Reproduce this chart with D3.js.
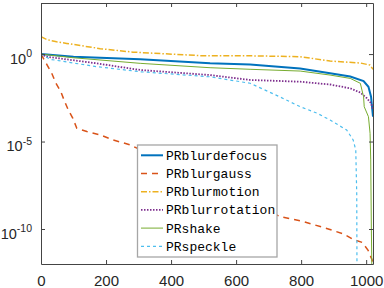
<!DOCTYPE html>
<html>
<head>
<meta charset="utf-8">
<script src="https://cdn.jsdelivr.net/npm/d3@7"></script>
<style>
  body { margin: 0; background: #fff; }
  svg { display: block; }
</style>
</head>
<body>
<svg width="384" height="288"></svg>
<script>
// values (index, value)
const xTicks = [0, 200, 400, 600, 800, 1000];
const yTicks = [1, 1e-5, 1e-10];
const yTickExp = ["0", "-5", "-10"];

const seriesNames = ["PRblurdefocus", "PRblurgauss", "PRblurmotion", "PRblurrotation", "PRshake", "PRspeckle"];

const defocusIdx = [0, 100, 305, 520, 643, 797, 889, 951, 992, 1007, 1015, 1021];
const defocusVal = [1, 0.708, 0.501, 0.295, 0.257, 0.151, 0.0794, 0.0525, 0.0288, 0.0135, 0.00363, 2.63e-4];

const gaussIdx = [0, 19, 33, 46, 61, 71, 84, 98, 110, 141, 182, 222, 274, 735, 806, 868, 929, 960, 988, 1006, 1018, 1021];
const gaussVal = [1, 0.234, 0.0794, 0.0214, 0.00708, 0.00234, 6.31e-4, 2.14e-4, 5.75e-5, 3.72e-5, 2.40e-5, 1.23e-5, 6.46e-6,
                  5.13e-10, 2.69e-10, 1.23e-10, 5.37e-11, 2.57e-11, 1.70e-11, 6.03e-12, 1.74e-12, 7.9e-13];

const motionIdx = [0, 18, 48, 79, 182, 283, 489, 643, 797, 889, 982, 1012, 1021];
const motionVal = [9.77, 6.76, 5.01, 4.07, 2.04, 1.29, 0.813, 0.794, 0.708, 0.398, 0.309, 0.234, 0.135];

const rotationIdx = [0, 17, 171, 305, 520, 643, 797, 889, 951, 982, 1002, 1015, 1021];
const rotationVal = [1, 0.708, 0.295, 0.123, 0.0631, 0.0331, 0.0263, 0.0182, 0.0110, 0.00631, 0.00302, 0.00155, 6.31e-4];

const shakeIdx = [0, 99, 305, 520, 643, 797, 889, 951, 982, 992, 994, 1007, 1012, 1014, 1016, 1018];
const shakeVal = [1, 0.617, 0.295, 0.166, 0.135, 0.107, 0.0631, 0.0407, 0.0214, 0.00363, 9.77e-4, 2.63e-4, 2.95e-5,
                  8.9e-7, 1e-10, 1e-13];

const speckleIdx = [0, 28, 171, 305, 520, 643, 735, 797, 849, 889, 940, 960, 968, 971, 972];
const speckleVal = [1, 0.501, 0.191, 0.0977, 0.0501, 0.0214, 0.00355, 9.77e-4, 4.17e-4, 1.70e-4, 4.57e-5, 1.23e-5,
                    3.31e-6, 1e-8, 1e-14];

const series = [
  {idx: defocusIdx, val: defocusVal, color: "#0072BD", w: 2, dash: null},
  {idx: gaussIdx, val: gaussVal, color: "#D95319", w: 1.5, dash: "6,5"},
  {idx: motionIdx, val: motionVal, color: "#EDB120", w: 1.5, dash: "6,2,1.5,2"},
  {idx: rotationIdx, val: rotationVal, color: "#7E2F8E", w: 1.8, dash: "1.5,1.5"},
  {idx: shakeIdx, val: shakeVal, color: "#77AC30", w: 1, dash: null},
  {idx: speckleIdx, val: speckleVal, color: "#4DBEEE", w: 1.2, dash: "3,3"}
];

const svg = d3.select("svg");
const plotL = 41, plotR = 373, plotT = 3, plotB = 264;

const x = d3.scaleLinear().domain([0, 1021]).range([plotL, plotR]);
const y = d3.scaleLog().domain([1e-12, 830]).range([plotB, plotT]);

svg.append("clipPath").attr("id", "plot-area")
  .append("rect")
    .attr("x", plotL).attr("y", plotT)
    .attr("width", plotR - plotL).attr("height", plotB - plotT);

const line = d3.line()
  .x(d => x(d[0]))
  .y(d => y(d[1]));

svg.append("g").attr("clip-path", "url(#plot-area)")
  .selectAll("path")
  .data(series)
  .enter()
  .append("path")
    .attr("fill", "none")
    .attr("stroke", d => d.color)
    .attr("stroke-width", d => d.w)
    .attr("stroke-dasharray", d => d.dash)
    .attr("d", d => line(d3.zip(d.idx, d.val)));

// axes (box on, ticks inward)
const axisColor = "#444";

const xAxis = svg.append("g")
  .attr("transform", `translate(0,${plotB})`)
  .call(d3.axisBottom(x).tickValues(xTicks).tickFormat(d3.format("d"))
    .tickSizeInner(-4).tickSizeOuter(0).tickPadding(11));
const xTop = svg.append("g")
  .attr("transform", `translate(0,${plotT})`)
  .call(d3.axisTop(x).tickValues(xTicks).tickSizeInner(-4).tickSizeOuter(0).tickFormat(""));
const yAxis = svg.append("g")
  .attr("transform", `translate(${plotL},0)`)
  .call(d3.axisLeft(y).tickValues(yTicks).tickSizeInner(-4).tickSizeOuter(0).tickFormat(""));
const yRight = svg.append("g")
  .attr("transform", `translate(${plotR},0)`)
  .call(d3.axisRight(y).tickValues(yTicks).tickSizeInner(-4).tickSizeOuter(0).tickFormat(""));

[xAxis, xTop, yAxis, yRight].forEach(g => {
  g.selectAll("path, line").attr("stroke", axisColor).attr("stroke-width", 1);
});

xAxis.selectAll("text")
  .attr("fill", "#262626")
  .style("font-family", "'Liberation Sans', Arial, sans-serif")
  .style("font-size", "15px");

const yLab = svg.append("g")
  .style("font-family", "'Liberation Sans', Arial, sans-serif")
  .attr("fill", "#262626");

yTicks.forEach((t, k) => {
  const txt = yLab.append("text")
    .attr("x", 32)
    .attr("y", y(t) + 9.5)
    .attr("text-anchor", "end")
    .style("font-size", "14.5px");
  txt.append("tspan").text("10");
  txt.append("tspan")
    .attr("dy", -6.5)
    .style("font-size", "10.5px")
    .text(yTickExp[k]);
});

// legend
const legend = svg.append("g");
legend.append("rect")
  .attr("x", 137.5).attr("y", 145)
  .attr("width", 139.5).attr("height", 112)
  .attr("fill", "#fff")
  .attr("stroke", "#a6a6a6")
  .attr("stroke-width", 1.3);

const rows = legend.selectAll("g.row")
  .data(series)
  .enter()
  .append("g")
    .attr("class", "row")
    .attr("transform", (d, k) => `translate(0,${155.3 + k * 18.2})`);

rows.append("line")
  .attr("x1", 141).attr("x2", 163)
  .attr("stroke", d => d.color)
  .attr("stroke-width", d => d.w)
  .attr("stroke-dasharray", d => d.dash);

rows.append("text")
  .attr("x", 166)
  .attr("dy", "0.35em")
  .style("font-family", "'Liberation Mono', 'DejaVu Sans Mono', monospace")
  .style("font-size", "13px")
  .attr("fill", "#000")
  .text((d, k) => seriesNames[k]);
</script>
</body>
</html>
